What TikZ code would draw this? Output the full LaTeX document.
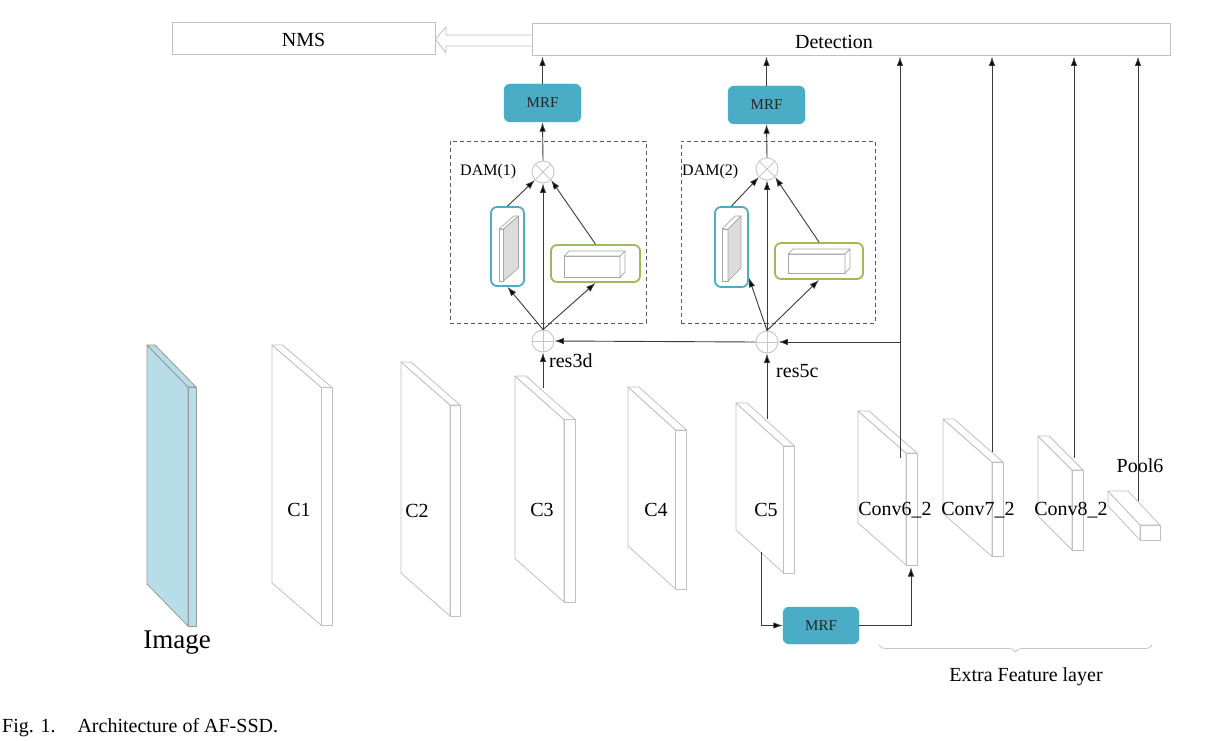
\documentclass[tikz,border=0pt]{standalone}
\usepackage{fontspec}
\setmainfont{Liberation Serif}
\usetikzlibrary{arrows.meta,calc,decorations.pathreplacing}
\definecolor{mrfblue}{HTML}{4BACC6}
\definecolor{imgblue}{HTML}{B7DDE8}
\definecolor{dgreen}{HTML}{9BBB59}
\definecolor{edgegray}{HTML}{C0C0C0}
\definecolor{linegray}{HTML}{3A3A3A}
\definecolor{sidegray}{HTML}{DCDCDC}
\tikzset{
  slabline/.style={draw=edgegray, line width=0.8pt, line join=round},
  imgline/.style={draw=gray!80, line width=0.8pt, line join=round},
  arr/.style={draw=linegray, line width=0.9pt, -{Latex[length=9.5pt,width=6.5pt,fill=black]}},
  bigbox/.style={draw=edgegray, line width=1pt, minimum height=32pt, inner sep=0pt},
  mrfbox/.style={fill=mrfblue, draw=mrfblue, rounded corners=6pt, minimum width=77pt, minimum height=38pt, font=\fontsize{15}{18}\selectfont, text=black!85},
  dambox/.style={draw=black!65, dashed, dash pattern=on 4pt off 3pt, line width=0.8pt, inner sep=0pt},
  bluebox/.style={draw=mrfblue, line width=1.8pt, rounded corners=6pt, inner sep=0pt},
  greenbox/.style={draw=dgreen, line width=1.8pt, rounded corners=6pt, inner sep=0pt},
  opx/.style={circle, draw=gray!45, line width=0.9pt, minimum size=22pt, inner sep=0pt,
    path picture={\draw[gray!45, line width=0.9pt] (path picture bounding box.north west) -- (path picture bounding box.south east) (path picture bounding box.north east) -- (path picture bounding box.south west);}},
  opp/.style={circle, draw=gray!45, line width=0.9pt, minimum size=22pt, inner sep=0pt,
    path picture={\draw[gray!45, line width=0.9pt] (path picture bounding box.north) -- (path picture bounding box.south) (path picture bounding box.east) -- (path picture bounding box.west);}},
  lab/.style={font=\fontsize{20}{24}\selectfont, inner sep=0pt},
  damlab/.style={font=\fontsize{16}{19}\selectfont, inner sep=0pt, anchor=west},
}
% feature-map slab: #1 style, #2 L, #3 T, #4 W, #5 D, #6 t, #7 H, #8 fill
\newcommand{\fmap}[8]{%
  \filldraw[#1, fill=#8] (#2,#3) -- (#2+#4,#3+#5) -- (#2+#4,#3+#5+#7) -- (#2,#3+#7) -- cycle;
  \filldraw[#1, fill=#8] (#2,#3) -- (#2+#6,#3) -- (#2+#4+#6,#3+#5) -- (#2+#4,#3+#5) -- cycle;
  \filldraw[#1, fill=#8] (#2+#4,#3+#5) -- (#2+#4+#6,#3+#5) -- (#2+#4+#6,#3+#5+#7) -- (#2+#4,#3+#5+#7) -- cycle;
}
% small cuboid: #1 x, #2 y, #3 w, #4 h, #5 dx, #6 dy (up), #7 side fill
\newcommand{\cuboid}[7]{%
  \filldraw[draw=gray!70, line width=0.7pt, fill=white] (#1,#2) rectangle (#1+#3,#2+#4);
  \filldraw[draw=gray!70, line width=0.7pt, fill=white, line join=round] (#1,#2) -- (#1+#5,#2-#6) -- (#1+#3+#5,#2-#6) -- (#1+#3,#2) -- cycle;
  \filldraw[draw=gray!70, line width=0.7pt, fill=#7, line join=round] (#1+#3,#2) -- (#1+#3+#5,#2-#6) -- (#1+#3+#5,#2+#4-#6) -- (#1+#3,#2+#4) -- cycle;
}
\begin{document}
\begin{tikzpicture}[x=1pt,y=-1pt]
\useasboundingbox (0,0) rectangle (1223,741);

% ---------- top boxes
\node[bigbox, minimum width=263pt] (nms) at (303.5,39) {};
\node[lab] (nmslab) at (303.5,40) {NMS};
\node[bigbox, minimum width=638pt] (det) at (851,40) {};
\node[lab] (detlab) at (834,42) {Detection};
% hollow arrow Detection -> NMS
\draw[draw=gray!50, line width=0.8pt, fill=white, line join=round]
  (det.west |- 0,35) -- (446,35) -- (446,27) -- (nms.east) -- (446,53) -- (446,46) -- (det.west |- 0,46);

% ---------- feature maps
\fmap{imgline}{147}{345}{41}{42}{8}{239}{imgblue}
\fmap{slabline}{272}{345}{49.5}{42.5}{10.5}{238}{white}
\fmap{slabline}{401}{362}{49}{43}{10}{211}{white}
\fmap{slabline}{515}{376}{49}{43.5}{11}{182.5}{white}
\fmap{slabline}{628}{387}{47.5}{43}{11}{159}{white}
\fmap{slabline}{736}{403}{47.5}{43}{11}{127}{white}
\fmap{slabline}{858}{411}{48}{42}{11}{112}{white}
\fmap{slabline}{943}{419}{49}{43}{11}{94.5}{white}
\fmap{slabline}{1038}{436}{34}{34}{11}{80}{white}
\fmap{slabline}{1108}{491}{32}{34}{20}{15}{white}

\node[font=\fontsize{27}{30}\selectfont, inner sep=0pt] (imglab) at (177,643) {Image};
\node[lab] (c1) at (299,510) {C1};
\node[lab] (c2) at (417,511) {C2};
\node[lab] (c3) at (542,510) {C3};
\node[lab] (c4) at (656,510) {C4};
\node[lab] (c5) at (766,510) {C5};
\node[lab] (c6) at (895,510) {Conv6\_2};
\node[lab] (c7) at (978,510) {Conv7\_2};
\node[lab] (c8) at (1071,510) {Conv8\_2};
\node[lab] (p6) at (1140,466) {Pool6};

% anchor points on the maps
\coordinate (c3out) at (543,388);
\coordinate (c5out) at (767,419);
\coordinate (c5down) at (761,552);
\coordinate (c6up) at (900,458);
\coordinate (c6in) at (911,567);
\coordinate (c7up) at (992,452);
\coordinate (c8up) at (1074,458);
\coordinate (p6up) at (1138,501);

% ---------- DAM(1)
\node[dambox, minimum width=196pt, minimum height=182pt] (dam1) at (548,232) {};
\node[damlab] (dam1lab) at (460,172) {DAM(1)};
\node[opx] (x1) at (543,172) {};
\node[opp] (p1) at (543,341) {};
\node[bluebox, minimum width=33pt, minimum height=79pt] (bl1) at (507.5,246.5) {};
\node[greenbox, minimum width=89pt, minimum height=37pt] (gr1) at (595.5,263.5) {};
\cuboid{499}{229}{4.5}{52}{15}{13}{sidegray}
\cuboid{564}{256}{56}{21}{5}{5}{white}
\node[lab, anchor=west] (r3) at (549,361) {res3d};
\node[mrfbox] (mrf1) at (542.5,103) {MRF};

% ---------- DAM(2)
\node[dambox, minimum width=194pt, minimum height=182pt] (dam2) at (778,232) {};
\node[damlab] (dam2lab) at (682,172) {DAM(2)};
\node[opx] (x2) at (767,169) {};
\node[opp] (p2) at (767,342) {};
\node[bluebox, minimum width=33pt, minimum height=80pt] (bl2) at (731.5,247) {};
\node[greenbox, minimum width=88pt, minimum height=36pt] (gr2) at (819,261) {};
\cuboid{722}{229}{6}{52}{13}{13}{sidegray}
\cuboid{788}{254}{57}{19}{5}{5}{white}
\node[lab, anchor=west] (r5) at (776,371) {res5c};
\node[mrfbox] (mrf2) at (766.5,105) {MRF};

% ---------- bottom MRF
\node[mrfbox, minimum width=76pt, minimum height=37pt] (mrf3) at (821,625.5) {MRF};

% ---------- connectors DAM(1)
\draw[arr] (c3out) -- (p1.south);
\draw[arr] (p1.north) -- (x1.south);
\draw[arr] (p1.north) -- (bl1.south);
\draw[arr] (p1.north) -- (gr1.south);
\draw[arr] (bl1.north) -- (x1.south west);
\draw[arr] (gr1.north) -- (x1.south east);
\draw[arr] (x1.north) -- (mrf1.south);
\draw[arr] (mrf1.north) -- (mrf1.north |- det.south);

% ---------- connectors DAM(2)
\draw[arr] (c5out) -- (p2.south);
\draw[arr] (p2.north) -- (x2.south);
\draw[arr] (p2.north) -- ($(bl2.east)!0.75!(bl2.south east)$);
\draw[arr] (p2.north) -- (gr2.south);
\draw[arr] (bl2.north) -- (x2.south west);
\draw[arr] (gr2.north) -- (x2.south east);
\draw[arr] (x2.north) -- (mrf2.south);
\draw[arr] (mrf2.north) -- (mrf2.north |- det.south);

% ---------- extra layers to detection
\draw[arr] (c6up) -- (c6up |- det.south);
\draw[arr] (c7up) -- (c7up |- det.south);
\draw[arr] (c8up) -- (c8up |- det.south);
\draw[arr] (p6up) -- (p6up |- det.south);
\coordinate (junc) at (c6up |- p2.east);
\draw[arr] (junc) -- (p2.east);
\draw[arr] (p2.west) -- (p1.east);

% ---------- C5 -> MRF -> Conv6_2
\draw[arr] (c5down) |- (mrf3.west);
\draw[arr] (mrf3.east) -| (c6in);

% ---------- brace
\coordinate (brR) at (1152,645);
\coordinate (brL) at (879,645);
\draw[draw=gray!45, line width=0.8pt, decorate, decoration={brace, amplitude=7pt}] (brR) -- (brL);
\node[lab] (extra) at (1026,677) {Extra Feature layer};

% ---------- caption
\node[lab, anchor=west] (cap) at (2,728) {Fig. 1.\hspace{1.1em}Architecture of AF-SSD.};
\end{tikzpicture}
\end{document}
